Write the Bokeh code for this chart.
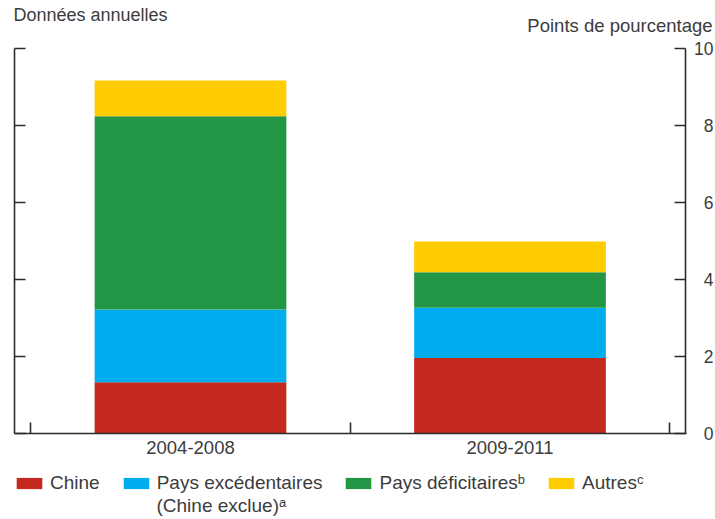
from bokeh.plotting import figure
from bokeh.models import (ColumnDataSource, Range1d, LinearAxis, FixedTicker,
                          Label, Legend, LegendItem)
from bokeh.embed import file_html
from bokeh.resources import INLINE

# ---- data -------------------------------------------------------------
periods = ["2004-2008", "2009-2011"]
chine = [1.32, 1.95]
pays_excedentaires = [1.89, 1.31]
pays_deficitaires = [5.03, 0.92]
autres = [0.93, 0.80]
series_keys = ["chine", "pays_excedentaires", "pays_deficitaires", "autres"]
legend_labels = ["Chine", "Pays excédentaires", "Pays déficitairesᵇ", "Autresᶜ"]
legend_second_line = "(Chine exclue)ᵃ"
y_ticks = [0, 2, 4, 6, 8, 10]
y_unit = "Points de pourcentage"
top_note = "Données annuelles"

# ---- style / layout ---------------------------------------------------
colors = ["#C4291F", "#00AEEF", "#229645", "#FFCC00"]
FONT = "Liberation Sans"
TEXT = "#3c3c3c"
AXIS = "#2b2b2b"

W, H = 715, 519
X_PX_PER_UNIT = 319.5      # pixels per category step
X_ORIGIN_PX = 190.0        # pixel of first category centre (x = 1)
Y_PX_PER_UNIT = 38.45
Y_ZERO_PX = 432.5          # pixel of y = 0


def px_x(px):
    return 1 + (px - X_ORIGIN_PX) / X_PX_PER_UNIT


def px_y(py):
    return (Y_ZERO_PX - py) / Y_PX_PER_UNIT


x_pos = [i + 1 for i in range(len(periods))]
bounds = [x - 0.5 for x in x_pos] + [x_pos[-1] + 0.5]

src = ColumnDataSource(dict(x=x_pos, chine=chine,
                            pays_excedentaires=pays_excedentaires,
                            pays_deficitaires=pays_deficitaires,
                            autres=autres))

p = figure(width=W, height=H, output_backend="svg", toolbar_location=None,
           x_range=Range1d(px_x(0), px_x(W)), y_range=Range1d(px_y(H), px_y(0)),
           x_axis_location=None, y_axis_location=None, min_border=0)
p.outline_line_color = None
p.background_fill_color = "white"
p.border_fill_color = "white"
p.grid.visible = False

rs = p.vbar_stack(series_keys, x="x", width=0.6, fill_color=colors,
                  line_color=None, source=src)

LEFT_X = px_x(13.5)
RIGHT_X = px_x(684.5)


def style_axis(ax):
    ax.axis_line_color = AXIS
    ax.axis_line_width = 1.6
    ax.major_tick_line_color = AXIS
    ax.major_tick_line_width = 1.6
    ax.minor_tick_line_color = AXIS
    ax.minor_tick_line_width = 1.6
    ax.major_tick_out = 0
    ax.minor_tick_out = 0
    ax.minor_tick_in = 0


for side, loc in (("left", LEFT_X), ("right", RIGHT_X)):
    ax = LinearAxis(ticker=FixedTicker(ticks=y_ticks),
                    major_label_overrides={t: "" for t in y_ticks},
                    major_label_standoff=0, fixed_location=loc,
                    bounds=(y_ticks[0], y_ticks[-1]))
    style_axis(ax)
    ax.major_tick_in = 11
    p.add_layout(ax, side)

xa = LinearAxis(ticker=FixedTicker(ticks=x_pos, minor_ticks=bounds),
                major_label_overrides={x: lab for x, lab in zip(x_pos, periods)},
                major_label_standoff=8, fixed_location=0,
                bounds=(LEFT_X, RIGHT_X + 0.005))
style_axis(xa)
xa.major_tick_in = 0
xa.minor_tick_in = 11
xa.major_label_text_font = FONT
xa.major_label_text_font_size = "18.5px"
xa.major_label_text_color = TEXT
p.add_layout(xa, "below")

# right-hand tick labels (right-aligned, as in the reference)
for t in y_ticks:
    p.add_layout(Label(x=px_x(713), y=t, text=str(t), text_align="right",
                       text_baseline="middle", text_font=FONT,
                       text_font_size="17.5px", text_color=TEXT))

p.add_layout(Label(x=px_x(712), y=px_y(25), text=y_unit, text_align="right",
                   text_baseline="alphabetic", text_font=FONT,
                   text_font_size="18.5px", text_color=TEXT))

p.add_layout(Label(x=px_x(13), y=px_y(14), text=top_note, text_align="left",
                   text_baseline="alphabetic", text_font=FONT,
                   text_font_size="18px", text_color=TEXT))

legend = Legend(items=[LegendItem(label=lab, renderers=[r])
                       for lab, r in zip(legend_labels, rs)],
                orientation="horizontal", location=(13, 25),
                glyph_width=32, glyph_height=14, label_standoff=5, spacing=20,
                padding=0, margin=0, border_line_color=None,
                background_fill_alpha=0, label_text_font=FONT,
                label_text_font_size="19px", label_text_color=TEXT)
p.add_layout(legend, "center")

p.add_layout(Label(x=px_x(156), y=px_y(505), text=legend_second_line,
                   text_align="left", text_baseline="alphabetic",
                   text_font=FONT, text_font_size="19px", text_color=TEXT))

open("out.html", "w").write(file_html(p, INLINE))
